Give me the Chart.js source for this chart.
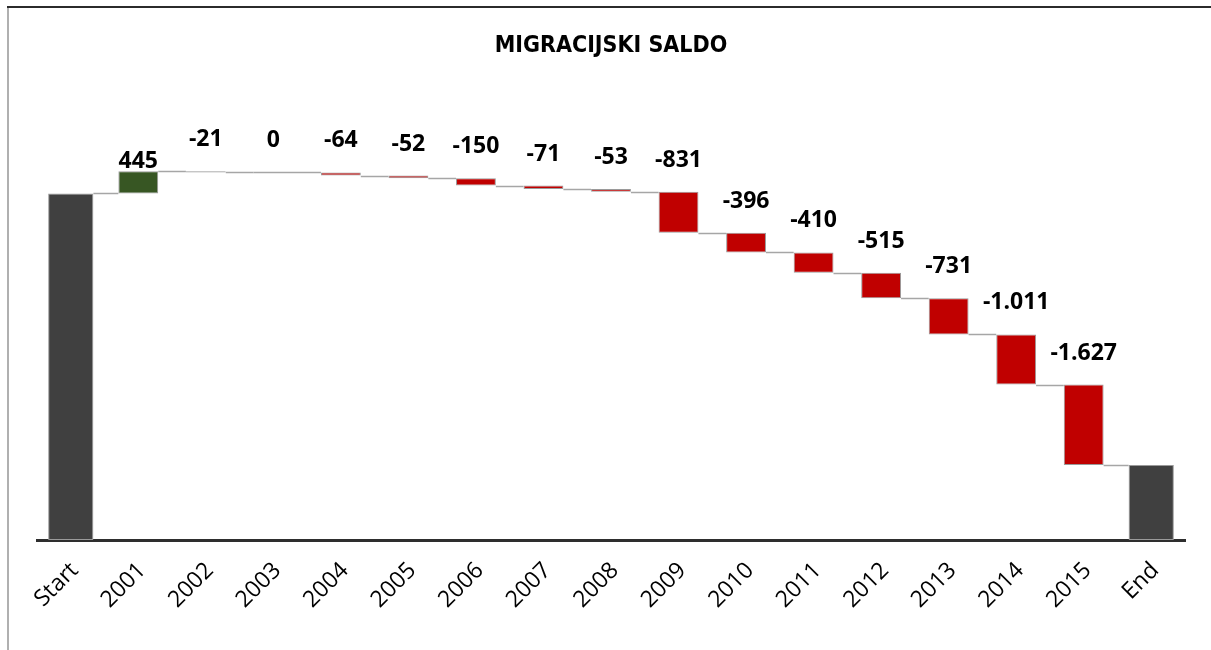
<!DOCTYPE html>
<html>
<head>
<meta charset="utf-8">
<title>Migracijski saldo</title>
<script src="https://cdn.jsdelivr.net/npm/chart.js@4.4.1/dist/chart.umd.min.js"></script>
<style>
  html, body { margin: 0; padding: 0; background: #fff; }
  #wrap { width: 1211px; height: 650px; position: relative; }
</style>
</head>
<body>
<div id="wrap"><canvas id="c"></canvas></div>
<script>
// Waterfall of net migration by year
const startLabel = 'Start';
const endLabel = 'End';
const years = ['2001','2002','2003','2004','2005','2006','2007','2008','2009','2010','2011','2012','2013','2014','2015'];
const startValue = 7000;
const changes = [445, -21, 0, -64, -52, -150, -71, -53, -831, -396, -410, -515, -731, -1011, -1627];

const categories = [startLabel, ...years, endLabel];

// Running levels: each year floats from the previous level to the new one
const levels = [startValue];
changes.forEach(d => levels.push(levels[levels.length - 1] + d));
const endValue = levels[levels.length - 1];

const totalData = categories.map((c, i) =>
  i === 0 ? [0, startValue] : (i === categories.length - 1 ? [0, endValue] : null));
const changeData = categories.map((c, i) =>
  (i === 0 || i === categories.length - 1) ? null : [levels[i - 1], levels[i]]);
const changeColors = categories.map((c, i) =>
  (i === 0 || i === categories.length - 1) ? '#C00000' : (changes[i - 1] > 0 ? '#375623' : '#C00000'));

function fmt(v) {
  const s = Math.abs(v).toString().replace(/\B(?=(\d{3})+(?!\d))/g, '.');
  return (v < 0 ? '-' : '') + s;
}

// Page frame: dark top rule and light left rule
const framePlugin = {
  id: 'frame',
  beforeDraw(chart) {
    const ctx = chart.ctx;
    ctx.save();
    ctx.fillStyle = '#ffffff';
    ctx.fillRect(0, 0, chart.width, chart.height);
    ctx.strokeStyle = '#b0b0b0';
    ctx.lineWidth = 2;
    ctx.beginPath();
    ctx.moveTo(8, 7);
    ctx.lineTo(8, chart.height);
    ctx.stroke();
    ctx.strokeStyle = '#2b2b2b';
    ctx.lineWidth = 2;
    ctx.beginPath();
    ctx.moveTo(7, 7);
    ctx.lineTo(chart.width, 7);
    ctx.stroke();
    ctx.restore();
  }
};

// Thin connectors between consecutive bars at the running level
const connectorPlugin = {
  id: 'connectors',
  afterDatasetsDraw(chart) {
    const ctx = chart.ctx;
    const y = chart.scales.y;
    const totals = chart.getDatasetMeta(0).data;
    const steps = chart.getDatasetMeta(1).data;
    const n = categories.length;
    const barAt = i => (i === 0 || i === n - 1) ? totals[i] : steps[i];
    ctx.save();
    ctx.strokeStyle = '#a6a6a6';
    ctx.lineWidth = 1.5;
    for (let i = 0; i < n - 1; i++) {
      const a = barAt(i), b = barAt(i + 1);
      const level = i === 0 ? startValue : levels[i];
      const py = Math.round(y.getPixelForValue(level)) + 0.5;
      // a flat (zero) step is shown as a rule across its own slot
      const x0 = (i > 0 && changes[i - 1] === 0) ? a.x - a.width / 2 : a.x + a.width / 2;
      ctx.beginPath();
      ctx.moveTo(x0, py);
      ctx.lineTo(b.x - b.width / 2, py);
      ctx.stroke();
    }
    ctx.restore();
  }
};

// Value labels above each yearly step
const labelPlugin = {
  id: 'valueLabels',
  afterDatasetsDraw(chart) {
    const ctx = chart.ctx;
    const y = chart.scales.y;
    const steps = chart.getDatasetMeta(1).data;
    ctx.save();
    ctx.font = 'bold 23px "Open Sans", sans-serif';
    ctx.fillStyle = '#000';
    ctx.textAlign = 'center';
    ctx.textBaseline = 'alphabetic';
    changes.forEach((d, k) => {
      const i = k + 1;
      const bar = steps[i];
      const top = y.getPixelForValue(Math.max(levels[i - 1], levels[i]));
      const base = d > 0 ? top - 3 : top - 25;
      ctx.fillText(fmt(d), bar.x, base);
    });
    ctx.restore();
  }
};

new Chart(document.getElementById('c'), {
  type: 'bar',
  data: {
    labels: categories,
    datasets: [
      {
        label: 'Ukupno',
        data: totalData,
        backgroundColor: '#404040',
        borderColor: '#9a9a9a',
        borderWidth: 1,
        borderSkipped: false,
        grouped: false,
        barPercentage: 0.67,
        categoryPercentage: 1.0
      },
      {
        label: 'Promjena',
        data: changeData,
        backgroundColor: changeColors,
        borderColor: '#9a9a9a',
        borderWidth: 1,
        borderSkipped: false,
        grouped: false,
        barPercentage: 0.59,
        categoryPercentage: 1.0
      }
    ]
  },
  options: {
    responsive: true,
    maintainAspectRatio: false,
    animation: false,
    layout: { padding: { left: 37, right: 26, top: 0, bottom: 0 } },
    plugins: {
      legend: { display: false },
      tooltip: { enabled: false },
      title: {
        display: true,
        text: 'MIGRACIJSKI SALDO',
        color: '#000',
        font: { family: '"Liberation Sans Narrow", "DejaVu Sans Condensed", "Open Sans", sans-serif', size: 23, weight: 'bold', lineHeight: 1.2 },
        padding: { top: 32, bottom: 59.5 }
      }
    },
    scales: {
      x: {
        grid: { display: false, drawTicks: false },
        border: { display: true, color: '#2e2e2e', width: 3 },
        ticks: {
          autoSkip: false,
          minRotation: 45,
          maxRotation: 45,
          padding: 17,
          labelOffset: 4,
          color: '#000',
          font: { family: '"Open Sans", sans-serif', size: 23 }
        },
        afterFit(scale) { scale.height = 110; }
      },
      y: {
        display: false,
        min: 0,
        max: 8500,
        grid: { display: false }
      }
    }
  },
  plugins: [framePlugin, connectorPlugin, labelPlugin]
});
</script>
</body>
</html>
